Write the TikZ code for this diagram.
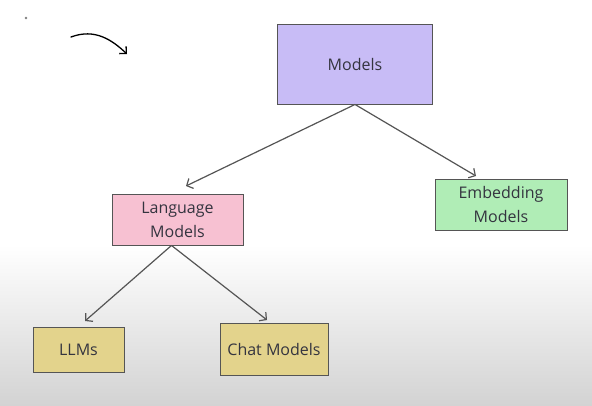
\documentclass[tikz,border=0pt]{standalone}
\usepackage{fontspec}
\setmainfont{Open Sans}
\usetikzlibrary{arrows.meta}
\definecolor{txt}{HTML}{34343F}
\definecolor{edge}{HTML}{555555}
\definecolor{cpurple}{HTML}{C8BCF6}
\definecolor{cpink}{HTML}{F7C1D2}
\definecolor{cgreen}{HTML}{B0EDB6}
\definecolor{cyellow}{HTML}{E3D38C}
\definecolor{bggray}{HTML}{D3D3D3}
\tikzset{
  box/.style={draw=edge, line width=0.9pt, text=txt, align=center, inner sep=0pt, font=\fontsize{16}{24}\selectfont},
  conn/.style={draw=edge, line width=1.2pt, -{Straight Barb[length=5pt,width=11pt]}},
}
\begin{document}
\begin{tikzpicture}[x=1pt,y=-1pt]
\useasboundingbox (0,0) rectangle (592,405);
\fill[white] (0,0) rectangle (592,245);
\shade[top color=white, bottom color=bggray] (0,245) rectangle (592,405);
% decorative dot and curved arrow
\fill[gray] (26,18) circle (1.3);
\coordinate (ca) at (71,37);
\coordinate (cb) at (127,54);
\draw[black, line width=1.3pt, line cap=round, -{Straight Barb[length=5pt,width=10pt]}] (ca) .. controls (95,28) and (112,40) .. (cb);
% boxes
\node[box, fill=cpurple, minimum width=155, minimum height=80] (m) at (355,64) {Models};
\node[box, fill=cpink, minimum width=131, minimum height=51] (lm) at (177.5,219.5) {Language\\Models};
\node[box, fill=cgreen, minimum width=132, minimum height=51] (em) at (501,204.5) {Embedding\\Models};
\node[box, fill=cyellow, minimum width=91, minimum height=45] (llm) at (78.5,349.5) {LLMs};
\node[box, fill=cyellow, minimum width=108, minimum height=52] (cm) at (274,349) {Chat Models};
% arrow tips (free ends just above the target boxes)
\coordinate (t1) at (186,186);
\coordinate (t2) at (476,176);
\coordinate (t3) at (85,321);
\coordinate (t4) at (267,320);
\coordinate (lmb) at ([xshift=-6pt]lm.south);
% connectors
\draw[conn] (m.south) -- (t1);
\draw[conn] (m.south) -- (t2);
\draw[conn] (lmb) -- (t3);
\draw[conn] (lmb) -- (t4);
\end{tikzpicture}
\end{document}
